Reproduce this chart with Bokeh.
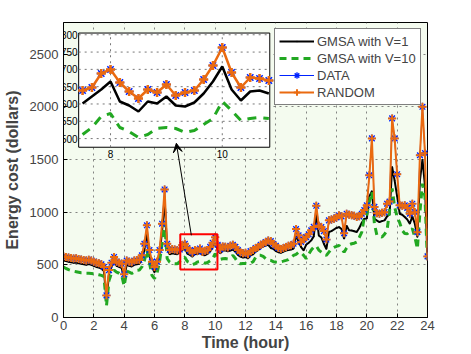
import numpy as np
from bokeh.plotting import figure
from bokeh.models import (Range1d, Legend, LegendItem, Arrow, VeeHead, BoxAnnotation, FixedTicker)
from bokeh.embed import file_html
from bokeh.resources import INLINE
from bokeh.core.properties import value

# ---------------- data (10-minute samples, 0..24 h) ----------------
time_h = np.arange(145) / 6.0

data_cost = [
    580, 575, 570, 565, 560, 562,
    555, 550, 545, 540, 548, 540,
    530, 520, 515, 505, 480, 210,
    450, 520, 575, 530, 520, 510,
    410, 540, 530, 525, 540, 545,
    545, 590, 700, 875, 640, 530,
    480, 530, 640, 890, 1215, 700,
    640, 650, 645, 638, 645, 687,
    699, 660, 636, 615, 640, 633,
    655, 622, 633, 638, 670, 710,
    761, 690, 645, 675, 672, 665,
    680, 690, 670, 640, 620, 610,
    615, 600, 630, 640, 660, 670,
    690, 700, 716, 730, 725, 700,
    680, 660, 650, 660, 670, 680,
    685, 700, 840, 780, 716, 740,
    763, 790, 827, 860, 1060, 870,
    858, 820, 740, 922, 930, 938,
    950, 970, 960, 800, 985, 975,
    970, 965, 955, 960, 985, 1020,
    1065, 1350, 1700, 1050, 990, 985,
    995, 1000, 1080, 1100, 1890, 1700,
    1360, 1065, 1060, 1065, 1040, 985,
    1080, 1000, 810, 1540, 2000, 1560,
    580,
]

# RANDOM overlaps DATA everywhere in the picture
random_cost = [
    580, 575, 570, 565, 560, 562,
    555, 550, 545, 540, 548, 540,
    530, 520, 515, 505, 480, 210,
    450, 520, 575, 530, 520, 510,
    410, 540, 530, 525, 540, 545,
    545, 590, 700, 875, 640, 530,
    480, 530, 640, 890, 1215, 700,
    640, 650, 645, 638, 645, 687,
    699, 660, 636, 615, 640, 633,
    655, 622, 633, 638, 670, 710,
    761, 690, 645, 675, 672, 665,
    680, 690, 670, 640, 620, 610,
    615, 600, 630, 640, 660, 670,
    690, 700, 716, 730, 725, 700,
    680, 660, 650, 660, 670, 680,
    685, 700, 840, 780, 716, 740,
    763, 790, 827, 860, 1060, 870,
    858, 820, 740, 922, 930, 938,
    950, 970, 960, 800, 985, 975,
    970, 965, 955, 960, 985, 1020,
    1065, 1350, 1700, 1050, 990, 985,
    995, 1000, 1080, 1100, 1890, 1700,
    1360, 1065, 1060, 1065, 1040, 985,
    1080, 1000, 810, 1540, 2000, 1560,
    580,
]

gmsa_v1 = [
    540, 535, 530, 525, 520, 522,
    515, 510, 505, 500, 508, 500,
    490, 480, 475, 465, 440, 170,
    410, 480, 535, 490, 480, 470,
    380, 500, 490, 485, 500, 505,
    510, 550, 640, 800, 600, 480,
    430, 490, 600, 820, 1120, 650,
    600, 610, 605, 600, 620, 640,
    663, 606, 594, 578, 605, 600,
    619, 594, 592, 604, 628, 663,
    707, 640, 608, 635, 638, 628,
    635, 645, 625, 595, 578, 570,
    575, 560, 590, 600, 625, 640,
    660, 675, 684, 690, 660, 653,
    630, 620, 615, 625, 636, 640,
    645, 655, 780, 720, 668, 637,
    690, 710, 732, 770, 990, 779,
    760, 700, 650, 811, 820, 835,
    850, 858, 840, 748, 870, 827,
    825, 818, 811, 850, 900, 938,
    940, 1150, 1200, 938, 920, 906,
    915, 922, 960, 980, 1430, 1300,
    1150, 985, 975, 953, 930, 890,
    960, 890, 763, 1300, 1500, 1250,
    545,
]

gmsa_v10 = [
    478, 465, 455, 447, 440, 435,
    430, 425, 425, 420, 420, 418,
    415, 410, 405, 400, 390, 110,
    350, 420, 450, 430, 420, 400,
    300, 440, 430, 418, 430, 447,
    450, 480, 540, 640, 520, 400,
    370, 420, 530, 700, 900, 560,
    526, 515, 510, 510, 530, 563,
    571, 532, 520, 503, 510, 528,
    531, 528, 515, 522, 538, 558,
    605, 580, 552, 558, 560, 556,
    570, 590, 560, 520, 510, 512,
    513, 510, 515, 530, 570, 590,
    590, 580, 558, 545, 542, 530,
    526, 525, 530, 535, 542, 550,
    570, 590, 600, 620, 615, 590,
    558, 600, 640, 668, 680, 640,
    620, 600, 590, 620, 653, 665,
    675, 684, 650, 620, 660, 690,
    700, 705, 716, 760, 811, 953,
    980, 1100, 1190, 890, 779, 770,
    763, 790, 827, 1017, 1226, 1050,
    953, 900, 827, 797, 795, 820,
    843, 763, 653, 1000, 1270, 1144,
    510,
]

x_ticks = [0, 2, 4, 6, 8, 10, 12, 14, 16, 18, 20, 22, 24]
y_ticks = [0, 500, 1000, 1500, 2000, 2500]
inset_x_ticks = [8, 10]
inset_y_ticks = [500, 550, 600, 650, 700, 750, 800]

# ---------------- styles ----------------
FONT = "Liberation Sans"
C_BLACK = "black"
C_GREEN = "#22A822"
C_BLUE = "#0022ff"
C_ORANGE = "#EA6A10"

p = figure(width=471, height=354, x_range=Range1d(0, 24), y_range=Range1d(0, 2800),
           output_backend="svg", toolbar_location=None,
           min_border_left=62, min_border_right=44, min_border_top=22, min_border_bottom=37,
           background_fill_color="#F4FBEF", border_fill_color="white")

p.xaxis.ticker = FixedTicker(ticks=x_ticks)
p.yaxis.ticker = FixedTicker(ticks=y_ticks)
p.xaxis.axis_label = "Time (hour)"
p.yaxis.axis_label = "Energy cost (dollars)"
for ax in (p.xaxis[0], p.yaxis[0]):
    ax.axis_label_text_font = FONT
    ax.axis_label_text_font_style = "bold"
    ax.axis_label_text_font_size = "16px"
    ax.major_label_text_font = FONT
    ax.major_label_text_font_size = "13px"
    ax.major_tick_in = 4
    ax.major_tick_out = 0
    ax.minor_tick_in = 0
    ax.minor_tick_out = 0
    ax.axis_line_color = "black"
p.xaxis.axis_label_standoff = 1
p.xaxis.major_label_standoff = 3
p.yaxis.axis_label_standoff = 6
p.yaxis.major_label_standoff = 5
p.grid.grid_line_dash = "dotted"
p.grid.grid_line_color = "#666666"
p.grid.grid_line_alpha = 0.8
p.outline_line_color = "black"
p.outline_line_width = 1

# ---------------- main series ----------------
r_v1 = p.line(time_h, gmsa_v1, line_color=C_BLACK, line_width=2)
r_v1m = p.scatter(time_h, gmsa_v1, marker="dot", size=6, color=C_BLACK)
r_v10 = p.line(time_h, gmsa_v10, line_color=C_GREEN, line_width=3, line_dash="7 5")
r_dl = p.line(time_h, data_cost, line_color=C_BLUE, line_width=1)
r_dm = p.scatter(time_h, data_cost, marker="asterisk", size=8, line_color=C_BLUE, line_width=1.3)
r_rl = p.line(time_h, random_cost, line_color=C_ORANGE, line_width=2)
r_rm = p.scatter(time_h, random_cost, marker="cross", size=8, line_color=C_ORANGE, line_width=2)

# ---------------- inset ----------------
ins_x = Range1d(7.43, 10.85)
ins_y = Range1d(475, 805)
sub = p.subplot(x_source=ins_x, y_source=ins_y,
                x_target=Range1d(1.0, 13.6), y_target=Range1d(1616, 2700))

sub.quad(left=[ins_x.start], right=[ins_x.end], bottom=[ins_y.start], top=[ins_y.end],
         fill_color="white", line_color="black", line_width=1)
sub.segment(x0=[ins_x.start] * len(inset_y_ticks), x1=[ins_x.end] * len(inset_y_ticks),
            y0=inset_y_ticks, y1=inset_y_ticks, line_color="#777777", line_dash="dotted")
sub.segment(x0=inset_x_ticks, x1=inset_x_ticks,
            y0=[ins_y.start] * len(inset_x_ticks), y1=[ins_y.end] * len(inset_x_ticks),
            line_color="#777777", line_dash="dotted")

mask = (time_h >= ins_x.start) & (time_h <= ins_x.end)
it = time_h[mask]
iv1 = np.array(gmsa_v1)[mask]
iv10 = np.array(gmsa_v10)[mask]
idat = np.array(data_cost)[mask]
irnd = np.array(random_cost)[mask]
sub.line(it, iv1, line_color=C_BLACK, line_width=2.5)
sub.line(it, iv10, line_color=C_GREEN, line_width=3, line_dash="9 7")
sub.line(it, idat, line_color=C_BLUE, line_width=1)
sub.scatter(it, idat, marker="asterisk", size=9, line_color=C_BLUE, line_width=1.5)
sub.line(it, irnd, line_color=C_ORANGE, line_width=2.5)
sub.scatter(it, irnd, marker="cross", size=9, line_color=C_ORANGE, line_width=2.5)

sub.text(x=[ins_x.start] * len(inset_y_ticks), y=inset_y_ticks,
         text=[str(v) for v in inset_y_ticks], x_offset=-1,
         text_align="right", text_baseline="middle",
         text_font=value(FONT), text_font_size="10px", text_color="black")
sub.text(x=inset_x_ticks, y=[ins_y.start] * len(inset_x_ticks),
         text=[str(v) for v in inset_x_ticks], y_offset=3,
         text_align="center", text_baseline="top",
         text_font=value(FONT), text_font_size="10px", text_color="black")

# ---------------- zoom box and arrow ----------------
p.add_layout(BoxAnnotation(left=7.7, right=10.15, bottom=455, top=790,
                           fill_alpha=0, line_color="red", line_alpha=1, line_width=2))
p.add_layout(Arrow(end=VeeHead(size=9, fill_color="black", line_color="black"),
                   x_start=8.43, y_start=780, x_end=7.44, y_end=1654,
                   line_color="black", line_width=1))

# ---------------- legend ----------------
legend = Legend(items=[
    LegendItem(label="GMSA with V=1", renderers=[r_v1, r_v1m]),
    LegendItem(label="GMSA with V=10", renderers=[r_v10]),
    LegendItem(label="DATA", renderers=[r_dl, r_dm]),
    LegendItem(label="RANDOM", renderers=[r_rl, r_rm]),
], location=(211, 212))
legend.label_text_font = FONT
legend.label_text_font_size = "13px"
legend.glyph_width = 35
legend.glyph_height = 16
legend.label_height = 16
legend.label_standoff = 3
legend.spacing = 1
legend.padding = 4
legend.margin = 0
legend.border_line_color = "black"
legend.border_line_width = 1
legend.background_fill_color = "white"
legend.background_fill_alpha = 1
p.add_layout(legend)

open("out.html", "w").write(file_html(p, INLINE))
